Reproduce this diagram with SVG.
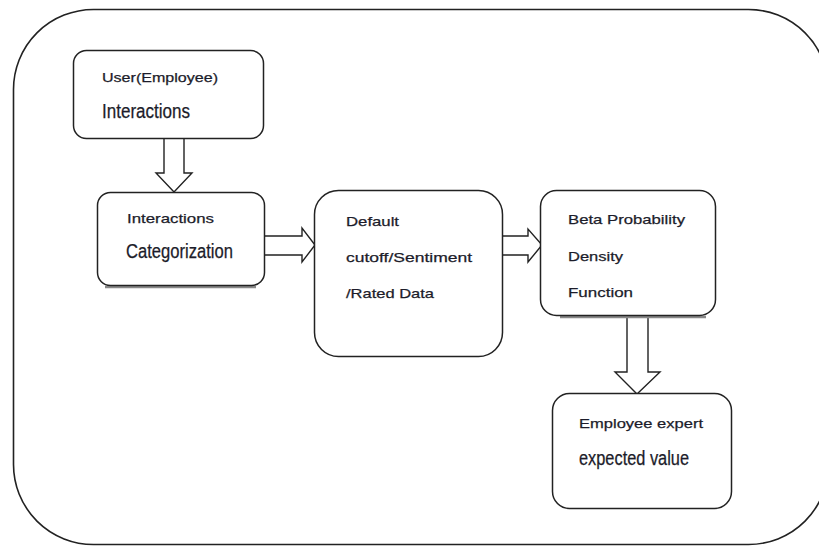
<svg xmlns="http://www.w3.org/2000/svg" width="819" height="546" viewBox="0 0 819 546">
<style>
.frame{fill:none;stroke:#222;stroke-width:1.6}
.box{fill:#fff;stroke:#222;stroke-width:1.5}
.shadow{fill:none;stroke:#888;stroke-width:2.5}
.arrow{fill:#fff;stroke:#222;stroke-width:1.4;stroke-linejoin:miter}
text{font-family:"Liberation Sans",Arial,sans-serif;fill:#1c1c2a;font-size:13.5px;stroke:#1c1c2a;stroke-width:0.25}
.big{font-size:19.5px}
</style>
<rect width="819" height="546" fill="#fff"/>
<rect class="frame" x="13.5" y="9.5" width="815" height="535" rx="80" ry="80"/>
<g id="connectors">
<polygon class="arrow" points="164,138 184,138 184,173 192,173 174,192 156,173 164,173"/>
<polygon class="arrow" points="264,236 302,236 302,228 315,245 302,262 302,255 264,255"/>
<polygon class="arrow" points="502,236 528,236 528,229 542,245 528,262 528,255 502,255"/>
<polygon class="arrow" points="627,315 648,315 648,372 660,372 637,394 615,372 627,372"/>
</g>
<g id="n1">
<rect class="box" x="73.5" y="50.5" width="190" height="88" rx="13"/>
<text x="102" y="82" textLength="116" lengthAdjust="spacingAndGlyphs">User(Employee)</text>
<text class="big" x="102" y="118" textLength="88" lengthAdjust="spacingAndGlyphs">Interactions</text>
</g>
<g id="n2">
<line class="shadow" x1="105" y1="287" x2="256" y2="287"/>
<rect class="box" x="97.5" y="192.5" width="167" height="93" rx="13"/>
<text x="127" y="223" textLength="87" lengthAdjust="spacingAndGlyphs">Interactions</text>
<text class="big" x="126" y="258" textLength="107" lengthAdjust="spacingAndGlyphs">Categorization</text>
</g>
<g id="n3">
<rect class="box" x="314.5" y="190.5" width="188" height="166" rx="24"/>
<text x="346" y="226" textLength="53" lengthAdjust="spacingAndGlyphs">Default</text>
<text x="346" y="262" textLength="126" lengthAdjust="spacingAndGlyphs">cutoff/Sentiment</text>
<text x="346" y="298" textLength="88" lengthAdjust="spacingAndGlyphs">/Rated Data</text>
</g>
<g id="n4">
<line class="shadow" x1="560" y1="317" x2="706" y2="317"/>
<rect class="box" x="540.5" y="190.5" width="175" height="125" rx="16"/>
<text x="568" y="224" textLength="117" lengthAdjust="spacingAndGlyphs">Beta Probability</text>
<text x="568" y="261" textLength="55" lengthAdjust="spacingAndGlyphs">Density</text>
<text x="568" y="297" textLength="65" lengthAdjust="spacingAndGlyphs">Function</text>
</g>
<g id="n5">
<rect class="box" x="552.5" y="393.5" width="179" height="115" rx="17"/>
<text x="579" y="428" textLength="124" lengthAdjust="spacingAndGlyphs">Employee expert</text>
<text class="big" x="579" y="465" textLength="110" lengthAdjust="spacingAndGlyphs">expected value</text>
</g>
</svg>
